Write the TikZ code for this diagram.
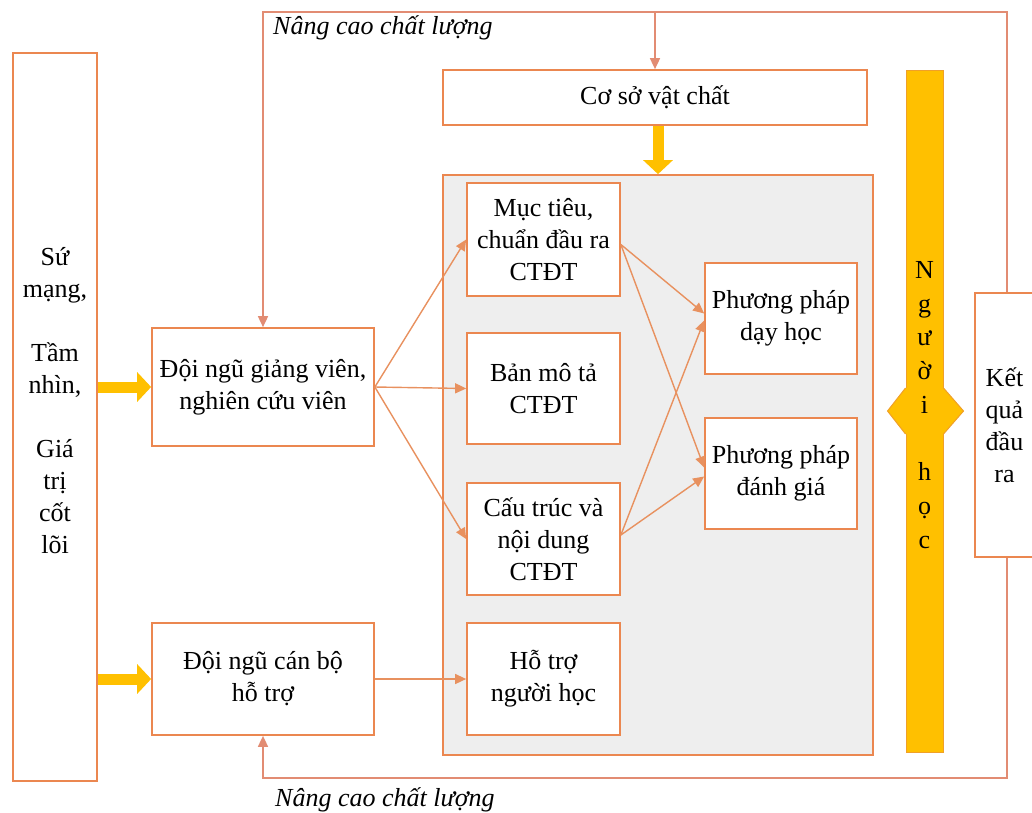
\documentclass[tikz,border=0pt]{standalone}
\usepackage{fontspec}
\setmainfont{Liberation Serif}
\usetikzlibrary{arrows.meta,calc}
\definecolor{boxor}{RGB}{235,135,80}
\definecolor{lineor}{RGB}{232,145,95}
\definecolor{fbor}{RGB}{226,140,115}
\definecolor{yel}{RGB}{255,192,0}
\definecolor{yeledge}{RGB}{240,160,40}
\definecolor{panel}{RGB}{238,238,238}

\begin{document}
\begin{tikzpicture}[x=1pt, y=-1pt, font=\fontsize{26}{32}\selectfont,
        box/.style={draw=boxor, line width=1.7pt, fill=white, align=center, inner sep=0pt},
        conn/.style={draw=lineor, line width=1.4pt, -{Triangle[width=10pt,length=11pt]}},
        feedback/.style={draw=fbor, line width=1.6pt, -{Triangle[width=10pt,length=11pt]}},
        bigarrow/.style={draw=yel, line width=11pt, -{Triangle[width=29pt,length=14pt]}},
        note/.style={font=\fontsize{26}{32}\selectfont\itshape, anchor=west, inner sep=0pt}]
        \useasboundingbox (0,0) rectangle (1032,812);
        \clip (0,0) rectangle (1032,812);

        % Coordinates
        \coordinate (tr) at (1007,12);
        \coordinate (br) at (1007,778);

        % Outer boxes
        \node[box, minimum width=84, minimum height=728] (sm) at (55,417) {};
        \node[align=center, inner sep=0pt] (smtext) at (55,401) {Sứ\\mạng,\\[32pt]Tầm\\nhìn,\\[32pt]Giá\\trị\\cốt\\lõi};
        \node[box, minimum width=222, minimum height=118] (gv) at (263,387) {Đội ngũ giảng viên,\\nghiên cứu viên};
        \node[box, minimum width=222, minimum height=112] (cb) at (263,679) {Đội ngũ cán bộ\\hỗ trợ};
        \node[box, minimum width=424, minimum height=55] (csvc) at (655,97.5) {Cơ sở vật chất};
        \node[box, fill=panel, minimum width=430, minimum height=580] (main) at (658,465) {};

        % Inner boxes
        \node[box, minimum width=153, minimum height=113] (mt) at (543.5,239.5) {Mục tiêu,\\chuẩn đầu ra\\CTĐT};
        \node[box, minimum width=153, minimum height=111] (bmt) at (543.5,388.5) {Bản mô tả\\CTĐT};
        \node[box, minimum width=153, minimum height=112] (ct) at (543.5,539) {Cấu trúc và\\nội dung\\CTĐT};
        \node[box, minimum width=153, minimum height=112] (ht) at (543.5,679) {Hỗ trợ\\người học};
        \node[box, minimum width=152, minimum height=111] (ppdh) at (781,318.5) {Phương pháp\\dạy học};
        \node[box, minimum width=152, minimum height=111] (ppdg) at (781,473.5) {Phương pháp\\đánh giá};

        % Nguoi hoc bar
        \node[draw=yeledge, fill=yel, line width=1pt, minimum width=37, minimum height=682, inner sep=0pt] (nh) at (924.5,411) {};
        \fill[yel] ($(nh.west)+(-18,0)$) -- ($(nh.west)+(0,-23)$) -- ($(nh.east)+(0,-23)$) -- ($(nh.east)+(20,0)$) -- ($(nh.east)+(0,23)$) -- ($(nh.west)+(0,23)$) -- cycle;
        \draw[yeledge, line width=1pt] ($(nh.west)+(0,-23)$) -- ($(nh.west)+(-18,0)$) -- ($(nh.west)+(0,23)$);
        \draw[yeledge, line width=1pt] ($(nh.east)+(0,-23)$) -- ($(nh.east)+(20,0)$) -- ($(nh.east)+(0,23)$);
        \node[align=center, inner sep=0pt, font=\fontsize{26}{33.75}\selectfont] (nhtext) at (924.5,405) {N\\g\\ư\\ờ\\i\\[33.75pt]h\\ọ\\c};
        \node[box, minimum width=59, minimum height=264] (kq) at (1004.5,425) {Kết\\quả\\đầu\\ra};

        % Labels
        \node[note] (nc1) at (273,28) {Nâng cao chất lượng};
        \node[note] (nc2) at (275,800) {Nâng cao chất lượng};

        % Arrows
        \draw[bigarrow] (sm.east |- gv.west) -- (gv.west);
        \draw[bigarrow] (sm.east |- cb.west) -- (cb.west);
        \draw[bigarrow] (csvc.south -| main.north) -- (main.north);

        \draw[conn] (gv.east) -- (mt.west);
        \draw[conn] (gv.east) -- (bmt.west);
        \draw[conn] (gv.east) -- (ct.west);
        \draw[conn] (cb.east) -- (ht.west);
        \draw[conn] ([yshift=-5pt]mt.east) -- ([yshift=5pt]ppdh.west);
        \draw[conn] ([yshift=-5pt]mt.east) -- ([yshift=6pt]ppdg.west);
        \draw[conn] ([yshift=4pt]ct.east) -- ([yshift=-2pt]ppdh.west);
        \draw[conn] ([yshift=4pt]ct.east) -- ([yshift=-3pt]ppdg.west);

        % Feedback loops
        \draw[feedback] (tr |- kq.north) -- (tr) -| (gv.north);
        \draw[feedback] (csvc.north |- tr) -- (csvc.north);
        \draw[feedback] (tr |- kq.south) -- (br) -| (cb.south);
    \end{tikzpicture}
\end{document}
